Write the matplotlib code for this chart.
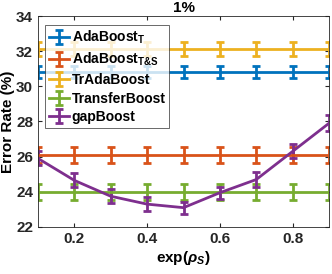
import numpy as np
import matplotlib.pyplot as plt

plt.rcParams['font.family'] = 'Liberation Sans'
plt.rcParams['font.weight'] = 'bold'
plt.rcParams['mathtext.fontset'] = 'custom'
plt.rcParams['mathtext.rm'] = 'Liberation Sans:bold'
plt.rcParams['mathtext.it'] = 'Liberation Sans:italic'
plt.rcParams['mathtext.default'] = 'rm'

x = [0.1, 0.2, 0.3, 0.4, 0.5, 0.6, 0.7, 0.8, 0.9]
ada_t = [30.8] * 9
ada_ts = [26.1] * 9
tradaboost = [32.1] * 9
transferboost = [24.0] * 9
gapboost = [25.9, 24.65, 23.75, 23.3, 23.1, 23.95, 24.7, 26.3, 27.9]
err_ada_t = [0.33] * 9
err_ada_ts = [0.45] * 9
err_trada = [0.4] * 9
err_transfer = [0.45] * 9
err_gap = [0.4, 0.4, 0.4, 0.4, 0.35, 0.35, 0.4, 0.4, 0.45]

labels = ['AdaBoost$_T$', 'AdaBoost$_{T&S}$', 'TrAdaBoost', 'TransferBoost', 'gapBoost']
colors = ['#0072BD', '#D95319', '#EDB120', '#77AC30', '#7E2F8E']
series = [(ada_t, err_ada_t), (ada_ts, err_ada_ts), (tradaboost, err_trada),
          (transferboost, err_transfer), (gapboost, err_gap)]

fig = plt.figure(figsize=(3.32, 2.74), dpi=100)
ax = fig.add_axes([38 / 332, 47 / 274, 291 / 332, 211 / 274])

for (y, e), lab, c in zip(series, labels, colors):
    ax.errorbar(x, y, yerr=e, color=c, lw=2, elinewidth=2, capsize=3, capthick=2, label=lab)

ax.set_xlim(0.1, 0.9)
ax.set_ylim(22, 34)
ax.set_xticks([0.2, 0.4, 0.6, 0.8])
ax.set_yticks([22, 24, 26, 28, 30, 32, 34])
ax.tick_params(direction='in', labelsize=11, length=3, top=True, right=True, colors='#262626')
for s in ax.spines.values():
    s.set_color('#262626')
    s.set_linewidth(0.6)
ax.set_title('1%', fontsize=11, fontweight='bold', pad=3)
ax.set_xlabel(r'exp($\it{\rho}_S$)', fontsize=11, fontweight='bold', labelpad=2)
ax.set_ylabel('Error Rate (%)', fontsize=11, fontweight='bold', labelpad=1)

leg = ax.legend(loc='upper left', bbox_to_anchor=(0.025, 0.955), fontsize=10, frameon=True,
                fancybox=False, edgecolor='#262626', handlelength=1.45, handletextpad=0.2,
                borderpad=0.25, labelspacing=0.33, borderaxespad=0)
leg.get_frame().set_linewidth(0.6)

plt.savefig('out.png', dpi=100)
